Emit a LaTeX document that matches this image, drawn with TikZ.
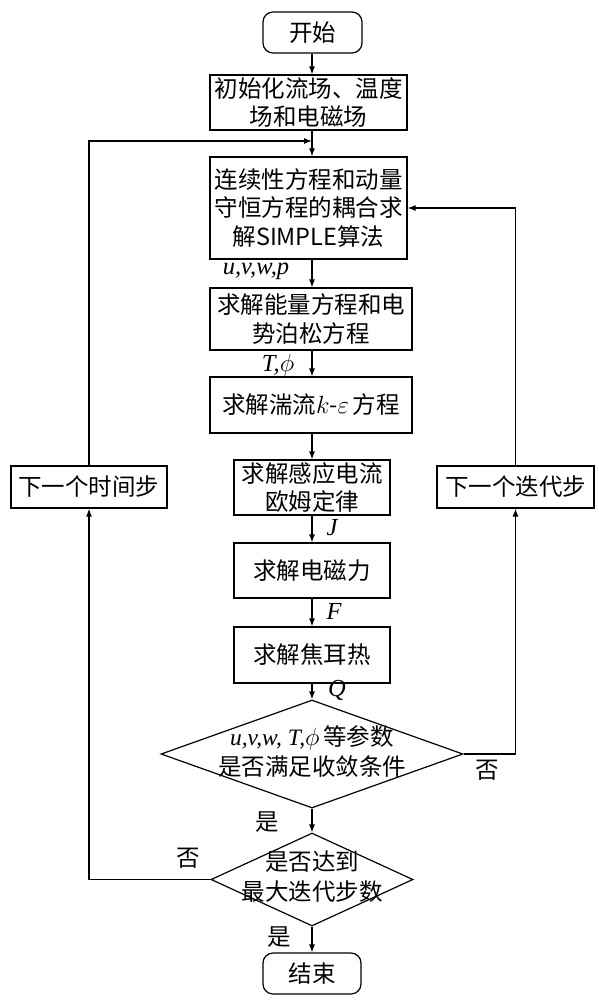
\documentclass[tikz,border=0pt]{standalone}
\usepackage{fontspec}
\setmainfont{Liberation Serif}
\newfontfamily\cjk{Noto Sans CJK SC}
\usetikzlibrary{arrows.meta,shapes.geometric}
\newcommand\vi[1]{{\rmfamily\itshape #1}}
\begin{document}
\begin{tikzpicture}[x=1pt,y=-1pt,
  box/.style={draw, line width=1.2pt, inner sep=0pt, align=center, font=\cjk\fontsize{23.5}{28.5}\selectfont},
  term/.style={box, rounded corners=10pt},
  dia/.style={draw, line width=1.2pt, diamond, inner sep=0pt},
  txt/.style={inner sep=0pt, align=center, font=\cjk\fontsize{23.5}{30}\selectfont},
  lab/.style={inner sep=0pt, font=\cjk\fontsize{23.5}{26}\selectfont},
  mlab/.style={inner sep=0pt, font=\rmfamily\itshape\fontsize{24.5}{26}\selectfont},
  arr/.style={line width=1.2pt, -{Latex[length=8pt,width=6pt]}},
  ln/.style={line width=1.2pt}]
\useasboundingbox (0,0) rectangle (599,1005);
\coordinate (cx) at (312,0);
\node[term, minimum width=99pt, minimum height=41pt] (start) at (312.5,32.5) {开始};
\node[box, minimum width=197pt, minimum height=55pt] (init) at (308.5,102.5) {初始化流场、温度\\场和电磁场};
\node[box, minimum width=197pt, minimum height=102pt] (simple) at (308.5,208) {连续性方程和动量\\守恒方程的耦合求\\解SIMPLE算法};
\node[box, minimum width=202pt, minimum height=62pt] (energy) at (311,319) {求解能量方程和电\\势泊松方程};
\node[box, minimum width=202pt, minimum height=56pt] (turb) at (311,405) {求解湍流$k$-$\varepsilon$\,方程};
\node[box, minimum width=156pt, minimum height=55pt] (induc) at (312,487.5) {求解感应电流\\欧姆定律};
\node[box, minimum width=156pt, minimum height=55pt] (emf) at (312,570.5) {求解电磁力};
\node[box, minimum width=156pt, minimum height=56pt] (joule) at (312,655) {求解焦耳热};
\node[dia, minimum width=302pt, minimum height=108pt] (d1) at (312,754) {};
\node[txt] (d1t) at (312,752) {\vi{u,v,w,~T,}$\phi$\,等参数\\是否满足收敛条件};
\node[dia, minimum width=202pt, minimum height=93pt] (d2) at (312,879.5) {};
\node[txt] (d2t) at (312,877) {是否达到\\最大迭代步数};
\node[term, minimum width=98pt, minimum height=41pt] (end) at (312,973.5) {结束};
\node[box, minimum width=156pt, minimum height=42pt] (tstep) at (89,487) {下一个时间步};
\node[box, minimum width=157pt, minimum height=42pt] (istep) at (515.5,487) {下一个迭代步};
\coordinate (jL) at (312,141);
% labels
\node[mlab] (luvwp) at (256,271) {u,v,w,p};
\node[mlab] (lTphi) at (278,365) {T,$\phi$};
\node[mlab] (lJ) at (332,528) {J};
\node[mlab] (lF) at (334,611) {F};
\node[mlab] (lQ) at (337,690) {Q};
\node[lab] (lno1) at (487,770) {否};
\node[lab] (lyes1) at (267,822) {是};
\node[lab] (lno2) at (188,858) {否};
\node[lab] (lyes2) at (279,937) {是};
% main flow
\draw[arr] (cx |- start.south) -- (cx |- init.north);
\draw[arr] (cx |- init.south) -- (cx |- simple.north);
\draw[arr] (cx |- simple.south) -- (cx |- energy.north);
\draw[arr] (cx |- energy.south) -- (cx |- turb.north);
\draw[arr] (cx |- turb.south) -- (cx |- induc.north);
\draw[arr] (cx |- induc.south) -- (cx |- emf.north);
\draw[arr] (cx |- emf.south) -- (cx |- joule.north);
\draw[arr] (cx |- joule.south) -- (d1.north);
\draw[arr] (d1.south) -- (d2.north);
\draw[arr] (d2.south) -- (end.north);
% loops
\draw[arr] (d1.east) -| (istep.south);
\draw[arr] (istep.north) |- (simple.east);
\draw[arr] (d2.west) -| (tstep.south);
\draw[arr] (tstep.north) |- (jL);
\end{tikzpicture}
\end{document}
